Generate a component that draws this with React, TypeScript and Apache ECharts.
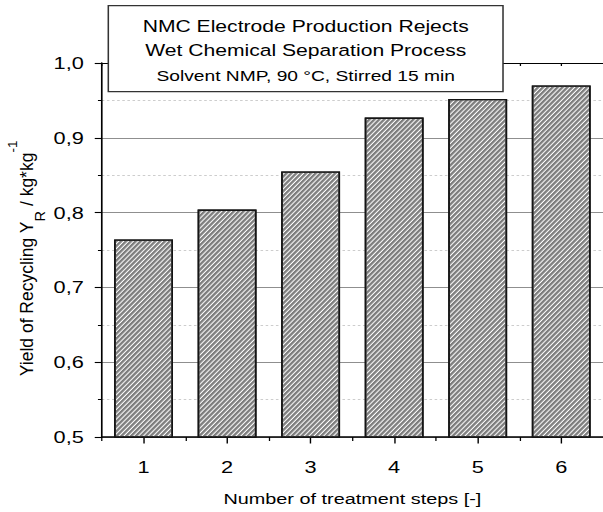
import React, { useEffect, useRef } from "react";
import * as echarts from "echarts";

// ---- data ----
const categories: string[] = ["1", "2", "3", "4", "5", "6"];
const yieldValues: number[] = [0.764, 0.804, 0.855, 0.927, 0.952, 0.970];
const yMin = 0.5;
const yMax = 1.0;
const yStep = 0.1;
const boxLines: string[] = [
  "NMC Electrode Production Rejects",
  "Wet Chemical Separation Process",
  "Solvent NMP, 90 °C, Stirred 15 min",
];
const xTitle = "Number of treatment steps [-]";

// ---- layout ----
const PAGE_W = 603;
const INNER_W = 471;
const H = 512;
const S = PAGE_W / INNER_W;
const FONT = '"Liberation Sans", Arial, Helvetica, sans-serif';

export default function App() {
  const ref = useRef<HTMLDivElement>(null);

  useEffect(() => {
    if (!ref.current) return;
    const chart = echarts.init(ref.current, null, {
      renderer: "svg",
      width: INNER_W,
      height: H,
    });

    const tickCat = (pos: "top" | "bottom", align: boolean, len: number, inside: boolean, showLine: boolean, lineW: number) => ({
      type: "category",
      data: categories,
      position: pos,
      axisLine: { show: showLine, onZero: false, lineStyle: { color: "#000", width: lineW } },
      axisTick: { show: true, alignWithLabel: align, inside, length: len, lineStyle: { color: "#000", width: 1 } },
      axisLabel: { show: false },
      splitLine: { show: false },
    });

    const option: any = {
      animation: false,
      backgroundColor: "#fff",
      grid: { left: 79.5, right: 0, top: 63, bottom: 75, containLabel: false, outerBoundsMode: "none" },
      xAxis: [
        {
          type: "category",
          data: categories,
          position: "bottom",
          axisLine: { show: true, onZero: false, lineStyle: { color: "#000", width: 1.5 } },
          axisTick: { show: true, alignWithLabel: true, length: 6.5, lineStyle: { color: "#000", width: 1.1 } },
          axisLabel: { fontSize: 17, fontFamily: FONT, color: "#000", margin: 21 },
          splitLine: { show: false },
          name: xTitle,
          nameLocation: "middle",
          nameGap: 54,
          nameTextStyle: { fontSize: 15.5, fontFamily: FONT, color: "#000" },
        },
        tickCat("bottom", false, 4, false, false, 1),
        tickCat("top", true, 3, true, true, 1),
        tickCat("top", false, 3, true, false, 1),
      ],
      yAxis: {
        type: "value",
        min: yMin,
        max: yMax,
        interval: yStep,
        axisLine: { show: true, lineStyle: { color: "#000", width: 1.3 } },
        axisTick: { show: true, inside: false, length: 5.5, lineStyle: { color: "#000", width: 1.1 } },
        minorTick: { show: true, splitNumber: 2, length: 3, lineStyle: { color: "#000", width: 1 } },
        splitLine: { show: true, lineStyle: { color: "#8f8f8f", width: 1 } },
        minorSplitLine: { show: true, lineStyle: { color: "#cdcdcd", width: 1, type: [2, 2] } },
        axisLabel: {
          fontSize: 17,
          fontFamily: FONT,
          color: "#000",
          margin: 14,
          formatter: (v: number) => v.toFixed(1).replace(".", ","),
        },
      },
      series: [
        {
          type: "bar",
          data: yieldValues,
          xAxisIndex: 0,
          barWidth: 46,
          itemStyle: {
            color: "#ffffff",
            borderColor: "#151515",
            borderWidth: 1.3,
            decal: {
              symbol: "rect",
              symbolSize: 1,
              color: "#7d7d7d",
              dashArrayX: [1, 0],
              dashArrayY: [2, 1],
              rotation: -0.908,
            },
          },
          emphasis: { disabled: true },
        },
      ],
      graphic: [
        {
          type: "rect",
          z: 100,
          shape: { x: 84.6, y: 5.7, width: 308.3, height: 86 },
          style: { fill: "#fff", stroke: "#333", lineWidth: 1.2 },
        },
        ...boxLines.map((t, i) => ({
          type: "text",
          z: 101,
          x: 238.8,
          y: [26.4, 50, 76.2][i],
          style: {
            text: t,
            fontSize: i === 2 ? 15 : 16.5,
            fontFamily: FONT,
            fill: "#000",
            align: "center",
            verticalAlign: "middle",
          },
        })),
        {
          type: "text",
          z: 101,
          x: 27 / S,
          y: 258.5,
          rotation: Math.PI / 2,
          scaleY: 1 / S,
          style: {
            text: "{m|Yield of Recycling Y}{s|R}{m| / kg*kg}{p|-1}",
            align: "center",
            verticalAlign: "middle",
            fill: "#000",
            rich: {
              m: { fontSize: 17.5, fontFamily: FONT, fill: "#000", lineHeight: 36 },
              s: { fontSize: 14.5, fontFamily: FONT, fill: "#000", height: 10, verticalAlign: "bottom" },
              p: { fontSize: 13.5, fontFamily: FONT, fill: "#000", height: 6, verticalAlign: "top" },
            },
          },
        },
      ],
    };

    chart.setOption(option);
    return () => chart.dispose();
  }, []);

  return (
    <div
      ref={ref}
      style={{
        position: "fixed",
        left: 0,
        top: 0,
        width: INNER_W,
        height: H,
        background: "#fff",
        transform: `scaleX(${S})`,
        transformOrigin: "0 0",
      }}
    />
  );
}
